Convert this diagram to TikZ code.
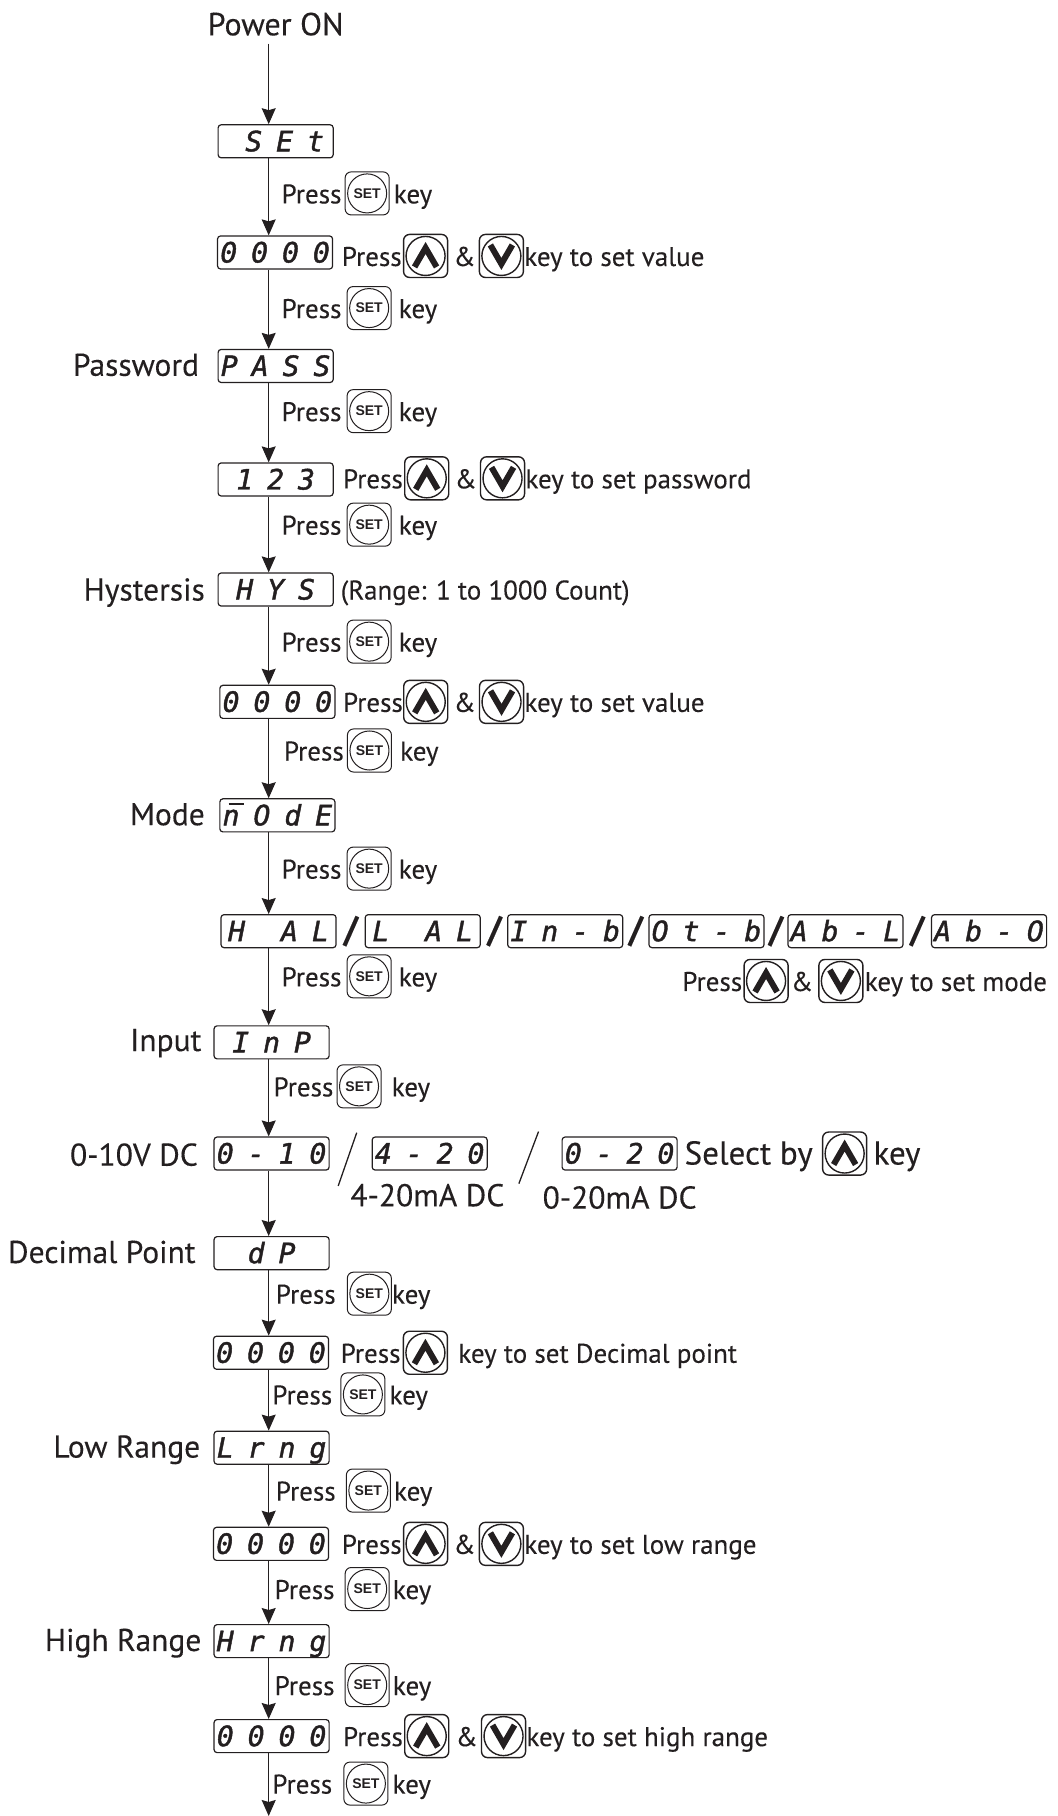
\documentclass[tikz,border=0pt]{standalone}
\usepackage{fontspec}
\setmainfont[FakeBold=0.2]{PT Sans}
\newfontfamily\lcdfont[LetterSpace=50,FakeBold=1.5]{DejaVu Sans Mono}
\newfontfamily\keyfont{Liberation Sans}
\usetikzlibrary{arrows.meta,positioning}
\definecolor{ink}{RGB}{35,31,32}
\begin{document}
\begin{tikzpicture}[x=1.1577pt, y=-1.1577pt, >={Stealth[length=16pt,width=14pt,inset=2pt]}, color=ink,
 every node/.style={inner sep=0pt},
 flow/.style={->, line width=1.1pt},
 lcd/.style={draw, rounded corners=3pt, line width=1.2pt, minimum width=115pt, minimum height=33pt, font=\lcdfont\itshape\fontsize{28}{28}\selectfont, text height=20pt, text depth=0pt, execute at begin node={\hspace*{-6.5pt}}, execute at end node={\hspace*{-6.5pt}}},
 lbl/.style={font=\fontsize{27}{27}\selectfont, text height=22pt, text depth=2pt, anchor=west},
 head/.style={font=\fontsize{31.5}{31.5}\selectfont, text height=24pt, text depth=2pt, anchor=east},
 big/.style={font=\fontsize{32}{32}\selectfont, text height=24pt, text depth=2pt},
 bar/.style={font=\bfseries\fontsize{36}{36}\selectfont},
 setkey/.style={draw, rounded corners=6pt, line width=1pt, minimum width=44pt, minimum height=43pt, font=\keyfont\bfseries\fontsize{14}{14}\selectfont,
  path picture={\draw[line width=1pt] (path picture bounding box.center) circle (19.5pt);}},
 upkey/.style={setkey, line width=1.4pt,
  path picture={\draw[line width=1.4pt] (path picture bounding box.center) circle (19.5pt);
   \draw[line width=6pt, sharp corners, shift={(path picture bounding box.center)}] (-11pt,-11pt)--(0pt,8pt)--(11pt,-11pt);}},
 dnkey/.style={setkey, line width=1.4pt,
  path picture={\draw[line width=1.4pt] (path picture bounding box.center) circle (19.5pt);
   \draw[line width=6pt, sharp corners, shift={(path picture bounding box.center)}] (-11pt,11pt)--(0pt,-8pt)--(11pt,11pt);}}]
\useasboundingbox (0,0) rectangle (913,1568);
\coordinate (ax) at (232,0);
\coordinate (tail) at (232,1568);
\node[big] (pwr) at (238,21) {Power ON};
\node[lcd] (set) at (238,122) {\hspace*{18pt}SEt};
\node[lcd] (val1) at (237.5,218) {0000};
\node[lcd] (pass) at (238,316) {PASS};
\node[head] (passn) at (172,315) {Password};
\node[lcd] (pwd) at (238,414) {123};
\node[lcd] (hys) at (238,509) {HYS};
\node[head] (hysn) at (177,509) {Hystersis};
\node[lbl] (hysr) at (294,509) {(Range: 1 to 1000 Count)};
\node[lcd] (val2) at (239.5,606) {0000};
\node[lcd] (mode) at (239.5,704) {\rlap{\hspace*{6pt}\rule[20pt]{15pt}{2.5pt}}nOdE};
\node[head] (moden) at (177,703) {Mode};
\node[lcd] (hal) at (240.5,804) {H\hspace*{36pt}AL};
\node[bar] (b1) at (303,804) {/};
\node[lcd] (lal) at (365,804) {L\hspace*{36pt}AL};
\node[bar] (b2) at (427,804) {/};
\node[lcd] (inb) at (488,804) {In-b};
\node[bar] (b3) at (549,804) {/};
\node[lcd] (otb) at (610,804) {Ot-b};
\node[bar] (b4) at (670,804) {/};
\node[lcd] (abl) at (730,804) {Ab-L};
\node[bar] (b5) at (792,804) {/};
\node[lcd] (abo) at (854,804) {Ab-O};
\node[lcd] (inp) at (234.5,900) {InP};
\node[head] (inpn) at (174,898) {Input};
\node[lcd] (v010) at (234.5,996) {0-10};
\node[head] (v010n) at (171,997) {0-10V DC};
\draw[line width=1.3pt] (308,978)--(292,1024);
\node[lcd] (c420) at (371,996) {4-20};
\node[big, font=\fontsize{31.5}{31.5}\selectfont] (c420n) at (369,1032) {4-20mA DC};
\draw[line width=1.3pt] (465,977)--(448,1022);
\node[lcd] (c020) at (535,996) {0-20};
\node[big, font=\fontsize{31.5}{31.5}\selectfont] (c020n) at (535,1034) {0-20mA DC};
\node[lcd] (dp) at (234.5,1082) {dP};
\node[head] (dpn) at (169,1081) {Decimal Point};
\node[lcd] (val3) at (234,1168) {0000};
\node[lcd] (lrn) at (234.5,1250) {Lrng};
\node[head] (lrnn) at (173,1249) {Low Range};
\node[lcd] (val4) at (234,1333) {0000};
\node[lcd] (hrn) at (234.5,1417) {Hrng};
\node[head] (hrnn) at (174,1416) {High Range};
\node[lcd] (val5) at (234.5,1499) {0000};
% press rows
\node[lbl] (p1) at (243,167) {Press};
\node[setkey, right=3pt of p1] (k1) {SET};
\node[lbl, right=4pt of k1] (t1) {key};
\node[lbl] (p2) at (295,221) {Press};
\node[upkey, right=1pt of p2] (k2) {};
\node[lbl, right=5pt of k2] (a2) {\&};
\node[dnkey, right=3pt of a2] (d2) {};
\node[lbl, right=0pt of d2] (t2) {key to set value};
\node[lbl] (p3) at (243,266) {Press};
\node[setkey, right=5pt of p3] (k3) {SET};
\node[lbl, right=7pt of k3] (t3) {key};
\node[lbl] (p4) at (243,355) {Press};
\node[setkey, right=5pt of p4] (k4) {SET};
\node[lbl, right=7pt of k4] (t4) {key};
\node[lbl] (p5) at (296,413) {Press};
\node[upkey, right=1pt of p5] (k5) {};
\node[lbl, right=5pt of k5] (a5) {\&};
\node[dnkey, right=3pt of a5] (d5) {};
\node[lbl, right=0pt of d5] (t5) {key to set password};
\node[lbl] (p6) at (243,453) {Press};
\node[setkey, right=5pt of p6] (k6) {SET};
\node[lbl, right=7pt of k6] (t6) {key};
\node[lbl] (p7) at (243,554) {Press};
\node[setkey, right=5pt of p7] (k7) {SET};
\node[lbl, right=7pt of k7] (t7) {key};
\node[lbl] (p8) at (296,606) {Press};
\node[upkey, right=0pt of p8] (k8) {};
\node[lbl, right=5pt of k8] (a8) {\&};
\node[dnkey, right=3pt of a8] (d8) {};
\node[lbl, right=0pt of d8] (t8) {key to set value};
\node[lbl] (p9) at (245,648) {Press};
\node[setkey, right=3pt of p9] (k9) {SET};
\node[lbl, right=8pt of k9] (t9) {key};
\node[lbl] (p10) at (243,750) {Press};
\node[setkey, right=5pt of p10] (k10) {SET};
\node[lbl, right=7pt of k10] (t10) {key};
\node[lbl] (p11) at (243,843) {Press};
\node[setkey, right=5pt of p11] (k11) {SET};
\node[lbl, right=7pt of k11] (t11) {key};
\node[lbl] (p12) at (589,847) {Press};
\node[upkey, right=1pt of p12] (k12) {};
\node[lbl, right=2pt of k12] (a12) {\&};
\node[dnkey, right=5pt of a12] (d12) {};
\node[lbl, right=1pt of d12] (t12) {key to set mode};
\node[lbl] (p13) at (236,938) {Press};
\node[setkey, right=3pt of p13] (k13) {SET};
\node[lbl, right=10pt of k13] (t13) {key};
\node[big, font=\fontsize{33}{33}\selectfont, anchor=west] (p14) at (591,996) {Select by};
\node[upkey, right=9pt of p14] (k14) {};
\node[big, font=\fontsize{33}{33}\selectfont, anchor=west, right=6pt of k14] (t14) {key};
\node[lbl] (p15) at (238,1117) {Press};
\node[setkey, right=11pt of p15] (k15) {SET};
\node[lbl, right=0pt of k15] (t15) {key};
\node[lbl] (p16) at (294,1168) {Press};
\node[upkey, right=2pt of p16] (k16) {};
\node[lbl, right=10pt of k16] (t16) {key to set Decimal point};
\node[lbl] (p17) at (235,1204) {Press};
\node[setkey, right=8pt of p17] (k17) {SET};
\node[lbl, right=4pt of k17] (t17) {key};
\node[lbl] (p18) at (238,1287) {Press};
\node[setkey, right=10pt of p18] (k18) {SET};
\node[lbl, right=3pt of k18] (t18) {key};
\node[lbl] (p19) at (295,1333) {Press};
\node[upkey, right=1pt of p19] (k19) {};
\node[lbl, right=5pt of k19] (a19) {\&};
\node[dnkey, right=3pt of a19] (d19) {};
\node[lbl, right=0pt of d19] (t19) {key to set low range};
\node[lbl] (p20) at (237,1372) {Press};
\node[setkey, right=10pt of p20] (k20) {SET};
\node[lbl, right=3pt of k20] (t20) {key};
\node[lbl] (p21) at (237,1455) {Press};
\node[setkey, right=10pt of p21] (k21) {SET};
\node[lbl, right=3pt of k21] (t21) {key};
\node[lbl] (p22) at (296,1499) {Press};
\node[upkey, right=1pt of p22] (k22) {};
\node[lbl, right=6pt of k22] (a22) {\&};
\node[dnkey, right=3pt of a22] (d22) {};
\node[lbl, right=0pt of d22] (t22) {key to set high range};
\node[lbl] (p23) at (235,1540) {Press};
\node[setkey, right=11pt of p23] (k23) {SET};
\node[lbl, right=4pt of k23] (t23) {key};
% arrows
\draw[flow] ([yshift=-6pt]pwr.south -| ax)--(set.north -| ax);
\draw[flow] (set.south -| ax)--(val1.north -| ax);
\draw[flow] (val1.south -| ax)--(pass.north -| ax);
\draw[flow] (pass.south -| ax)--(pwd.north -| ax);
\draw[flow] (pwd.south -| ax)--(hys.north -| ax);
\draw[flow] (hys.south -| ax)--(val2.north -| ax);
\draw[flow] (val2.south -| ax)--(mode.north -| ax);
\draw[flow] (mode.south -| ax)--(hal.north -| ax);
\draw[flow] (hal.south -| ax)--(inp.north -| ax);
\draw[flow] (inp.south -| ax)--(v010.north -| ax);
\draw[flow] (v010.south -| ax)--(dp.north -| ax);
\draw[flow] (dp.south -| ax)--(val3.north -| ax);
\draw[flow] (val3.south -| ax)--(lrn.north -| ax);
\draw[flow] (lrn.south -| ax)--(val4.north -| ax);
\draw[flow] (val4.south -| ax)--(hrn.north -| ax);
\draw[flow] (hrn.south -| ax)--(val5.north -| ax);
\draw[flow] (val5.south -| ax)--(tail);
\end{tikzpicture}
\end{document}
